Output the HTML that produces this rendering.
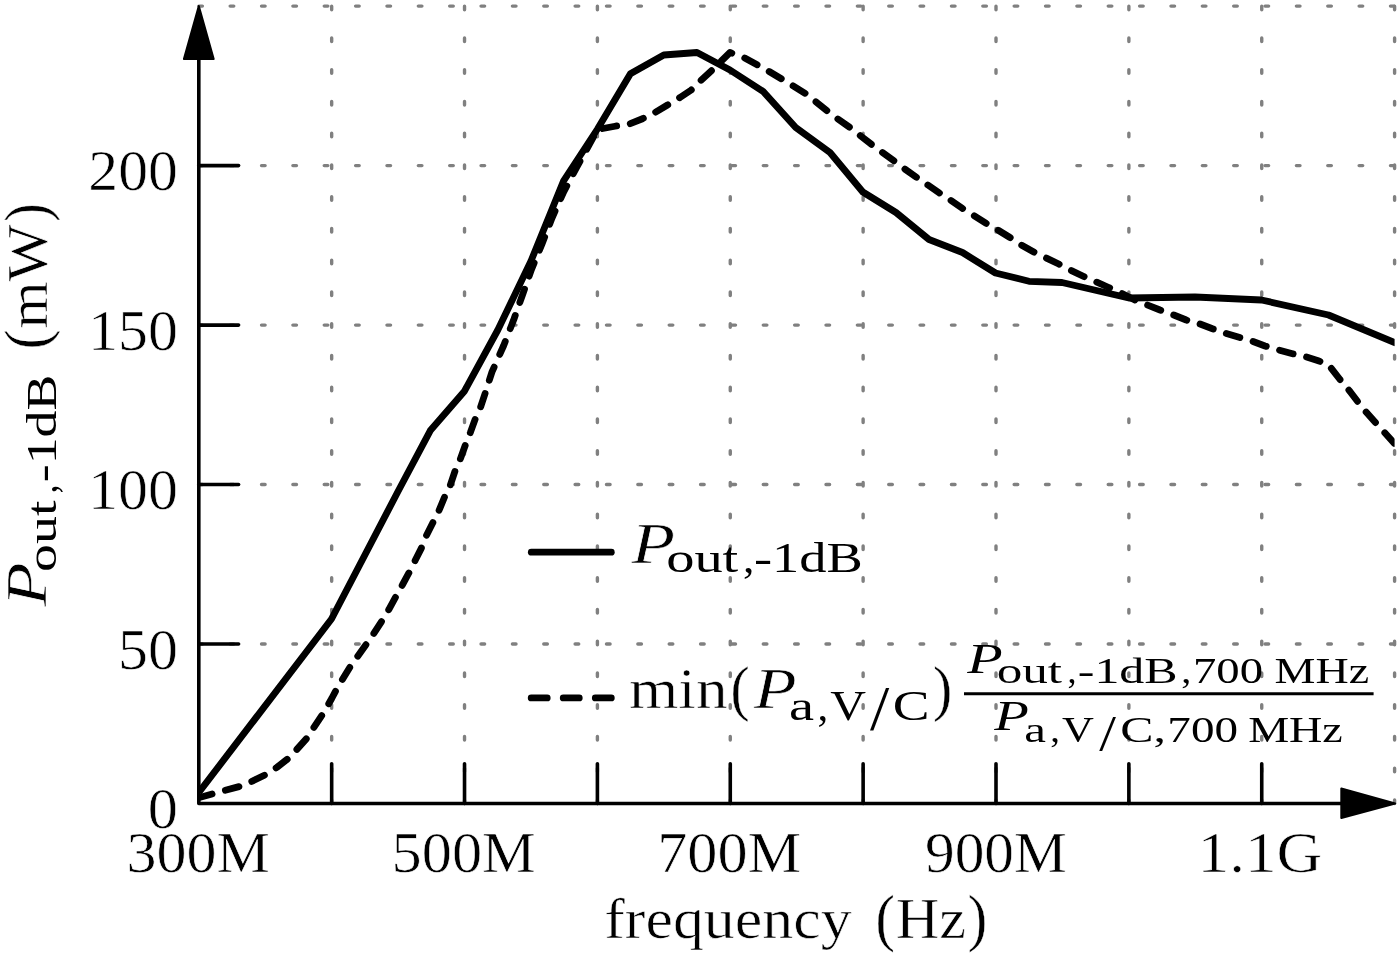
<!DOCTYPE html><html><head><meta charset="utf-8"><style>html,body{margin:0;padding:0;background:#fff;overflow:hidden}svg{display:block;filter:grayscale(1)}</style></head><body><svg width="1400" height="956" viewBox="0 0 1400 956">
<rect width="1400" height="956" fill="#fff"/>
<g stroke="#808080" stroke-width="3.4" stroke-linecap="round" fill="none"><line x1="198.8" y1="644.02" x2="1394.60" y2="644.02" stroke-dasharray="3.6 27.76"/><line x1="198.8" y1="484.55" x2="1394.60" y2="484.55" stroke-dasharray="3.6 27.76"/><line x1="198.8" y1="325.08" x2="1394.60" y2="325.08" stroke-dasharray="3.6 27.76"/><line x1="198.8" y1="165.60" x2="1394.60" y2="165.60" stroke-dasharray="3.6 27.76"/><line x1="198.8" y1="6.12" x2="1394.60" y2="6.12" stroke-dasharray="3.6 27.76"/><line x1="331.67" y1="803.5" x2="331.67" y2="6.12" stroke-dasharray="3.6 28.15"/><line x1="464.53" y1="803.5" x2="464.53" y2="6.12" stroke-dasharray="3.6 28.15"/><line x1="597.40" y1="803.5" x2="597.40" y2="6.12" stroke-dasharray="3.6 28.15"/><line x1="730.27" y1="803.5" x2="730.27" y2="6.12" stroke-dasharray="3.6 28.15"/><line x1="863.13" y1="803.5" x2="863.13" y2="6.12" stroke-dasharray="3.6 28.15"/><line x1="996.00" y1="803.5" x2="996.00" y2="6.12" stroke-dasharray="3.6 28.15"/><line x1="1128.87" y1="803.5" x2="1128.87" y2="6.12" stroke-dasharray="3.6 28.15"/><line x1="1261.74" y1="803.5" x2="1261.74" y2="6.12" stroke-dasharray="3.6 28.15"/><line x1="1394.60" y1="803.5" x2="1394.60" y2="6.12" stroke-dasharray="3.6 28.15"/></g>
<g stroke="#000" stroke-width="3.6" stroke-linecap="round" fill="none"><line x1="198.8" y1="644.02" x2="238.6" y2="644.02"/><line x1="198.8" y1="484.55" x2="238.6" y2="484.55"/><line x1="198.8" y1="325.08" x2="238.6" y2="325.08"/><line x1="198.8" y1="165.60" x2="238.6" y2="165.60"/><line x1="331.67" y1="803.5" x2="331.67" y2="763.8"/><line x1="464.53" y1="803.5" x2="464.53" y2="763.8"/><line x1="597.40" y1="803.5" x2="597.40" y2="763.8"/><line x1="730.27" y1="803.5" x2="730.27" y2="763.8"/><line x1="863.13" y1="803.5" x2="863.13" y2="763.8"/><line x1="996.00" y1="803.5" x2="996.00" y2="763.8"/><line x1="1128.87" y1="803.5" x2="1128.87" y2="763.8"/><line x1="1261.74" y1="803.5" x2="1261.74" y2="763.8"/><polyline points="198.8,58 198.8,803.5 1342,803.5" stroke-linejoin="round"/></g>
<g fill="#000" stroke="#000" stroke-width="2" stroke-linejoin="round"><polygon points="198.8,6 183.9,59 213.7,59"/><polygon points="1395.2,803.5 1341.3,788.5 1341.3,818.1"/></g>
<defs><clipPath id="pc"><rect x="198.8" y="0" width="1195.8" height="803.5"/></clipPath></defs><g clip-path="url(#pc)">
<polyline points="198.50,797.80 213.10,793.80 225.20,790.30 239.80,786.40 252.00,781.30 264.90,775.00 276.70,767.50 287.70,758.90 296.30,750.00 307.50,737.50 313.80,727.50 323.80,712.50 331.70,698.50 337.50,687.50 350.00,667.00 357.50,656.50 367.50,642.50 373.80,633.50 382.50,620.00 388.80,609.60 396.30,595.80 402.60,584.50 410.10,570.70 415.10,560.60 421.40,548.10 426.40,535.50 432.70,523.00 439.00,510.50 444.70,496.70 450.20,485.40 455.30,470.30 460.30,459.00 465.30,445.20 470.30,432.70 475.30,418.90 480.40,407.60 485.40,392.50 492.00,371.90 503.70,345.50 514.00,319.00 522.70,294.30 531.50,269.40 541.80,244.50 552.00,218.10 563.70,191.80 576.90,166.90 597.60,129.50 615.00,126.25 630.00,123.75 642.50,118.75 655.00,112.50 667.50,105.00 680.00,97.50 691.25,90.00 700.00,81.25 713.75,68.50 730.00,52.50 743.75,57.50 757.50,65.00 768.75,71.25 782.50,79.50 792.50,85.50 806.25,94.00 815.00,101.00 827.50,111.25 837.50,118.75 850.00,127.50 860.00,135.50 871.50,144.40 882.40,152.40 893.90,160.80 904.90,169.10 916.40,177.20 927.90,185.00 939.40,193.00 950.90,200.40 962.60,208.50 974.10,215.70 986.20,223.40 997.50,229.80 1010.00,237.50 1021.25,245.00 1033.75,252.00 1046.25,258.00 1058.75,264.00 1071.25,270.50 1083.75,276.50 1096.25,282.00 1108.75,287.50 1122.50,293.75 1135.00,300.00 1147.50,305.00 1160.00,310.00 1173.75,315.00 1186.25,320.00 1200.00,324.00 1212.50,328.75 1226.25,333.50 1240.00,337.50 1252.50,341.25 1265.00,346.00 1278.75,350.00 1292.50,353.75 1306.25,357.00 1317.50,360.50 1328.20,364.50 1340.00,379.50 1350.00,391.50 1362.50,408.00 1375.00,422.00 1385.00,433.00 1394.60,443.75 1402.00,452.04" fill="none" stroke="#000" stroke-width="6.8" stroke-dasharray="14.1 13.8" stroke-linecap="round" stroke-linejoin="round"/>
<polyline points="198.80,792.50 331.50,619.00 398.50,490.50 430.30,430.60 464.20,391.60 497.80,330.00 531.00,261.00 563.60,180.80 597.50,129.00 630.40,73.80 663.80,55.00 697.00,52.50 730.00,70.00 763.00,91.30 795.70,127.50 830.00,152.50 862.80,192.00 896.00,212.50 929.00,239.50 962.50,252.50 995.50,273.00 1029.00,281.30 1062.00,282.50 1128.80,298.00 1195.00,297.00 1261.50,300.00 1328.50,315.00 1394.60,342.50 1402.00,345.58" fill="none" stroke="#000" stroke-width="6.8" stroke-linejoin="round"/>
</g>
<line x1="531.3" y1="552.2" x2="611.3" y2="552.2" stroke="#000" stroke-width="6.8" stroke-linecap="round"/>
<line x1="531.2" y1="697.9" x2="611.3" y2="697.9" stroke="#000" stroke-width="6.8" stroke-linecap="round" stroke-dasharray="16 16.05"/>
<line x1="964" y1="693.8" x2="1373.6" y2="693.8" stroke="#000" stroke-width="3"/>
<g font-family="Liberation Serif, serif" fill="#000" stroke="#fff" stroke-width="0.6"><text x="88.37" y="190.20" font-size="57.00" textLength="89.49" lengthAdjust="spacingAndGlyphs">200</text><text x="88.03" y="349.68" font-size="57.00" textLength="89.85" lengthAdjust="spacingAndGlyphs">150</text><text x="88.03" y="509.15" font-size="57.00" textLength="89.85" lengthAdjust="spacingAndGlyphs">100</text><text x="117.92" y="668.62" font-size="57.00" textLength="59.96" lengthAdjust="spacingAndGlyphs">50</text><text x="147.71" y="828.10" font-size="57.00" textLength="30.19" lengthAdjust="spacingAndGlyphs">0</text><text x="126.62" y="872.00" font-size="57.00" textLength="143.23" lengthAdjust="spacingAndGlyphs">300M</text><text x="391.58" y="872.00" font-size="57.00" textLength="144.16" lengthAdjust="spacingAndGlyphs">500M</text><text x="657.19" y="872.00" font-size="57.00" textLength="143.93" lengthAdjust="spacingAndGlyphs">700M</text><text x="924.95" y="872.00" font-size="57.00" textLength="141.93" lengthAdjust="spacingAndGlyphs">900M</text><text x="1197.57" y="872.00" font-size="57.00" textLength="124.74" lengthAdjust="spacingAndGlyphs">1.1G</text><text x="604.18" y="937.80" font-size="57.00" textLength="247.54" lengthAdjust="spacingAndGlyphs">frequency</text><text font-size="100.0" transform="matrix(0.58366,0,0,0.62845,875.43,938.61)">(</text><text x="895.75" y="938.00" font-size="57.00" textLength="70.44" lengthAdjust="spacingAndGlyphs">Hz</text><text font-size="100.0" transform="matrix(0.58366,0,0,0.62845,967.63,938.61)">)</text><text x="631.46" y="563.20" font-size="57.00" font-style="italic" textLength="43.59" lengthAdjust="spacingAndGlyphs">P</text><text x="628.97" y="708.10" font-size="57.00" textLength="98.66" lengthAdjust="spacingAndGlyphs">min</text><text font-size="100.0" transform="matrix(0.57588,0,0,0.61632,730.57,708.87)">(</text><text x="754.05" y="708.10" font-size="57.00" font-style="italic" textLength="42.66" lengthAdjust="spacingAndGlyphs">P</text><text font-size="100.0" transform="matrix(0.57588,0,0,0.61632,933.06,708.87)">)</text></g>
<g font-family="Liberation Serif, serif" fill="#000"><text x="666.15" y="572.00" font-size="43.00" textLength="72.18" lengthAdjust="spacingAndGlyphs">out</text><text x="742.97" y="572.00" font-size="43.00" textLength="11.41" lengthAdjust="spacingAndGlyphs">,</text><text x="753.99" y="572.00" font-size="43.00" textLength="108.88" lengthAdjust="spacingAndGlyphs">-1dB</text><text x="788.92" y="720.30" font-size="43.00" textLength="25.06" lengthAdjust="spacingAndGlyphs">a</text><text x="817.57" y="720.30" font-size="43.00" textLength="10.74" lengthAdjust="spacingAndGlyphs">,</text><text x="830.25" y="720.30" font-size="43.00" textLength="35.80" lengthAdjust="spacingAndGlyphs">V</text><text font-size="100.0" transform="matrix(0.69424,0,0,0.62481,870.00,729.78)">/</text><text x="892.84" y="720.30" font-size="43.00" textLength="36.80" lengthAdjust="spacingAndGlyphs">C</text><text x="967.19" y="673.40" font-size="43.00" font-style="italic" textLength="35.41" lengthAdjust="spacingAndGlyphs">P</text><text x="996.65" y="683.00" font-size="36.50" textLength="65.44" lengthAdjust="spacingAndGlyphs">out</text><text x="1067.52" y="683.00" font-size="36.50" textLength="9.06" lengthAdjust="spacingAndGlyphs">,</text><text x="1077.75" y="683.00" font-size="36.50" textLength="99.90" lengthAdjust="spacingAndGlyphs">-1dB</text><text x="1181.37" y="683.00" font-size="36.50" textLength="10.07" lengthAdjust="spacingAndGlyphs">,</text><text x="1193.02" y="683.00" font-size="36.50" textLength="70.06" lengthAdjust="spacingAndGlyphs">700</text><text x="1274.57" y="683.00" font-size="36.50" textLength="94.53" lengthAdjust="spacingAndGlyphs">MHz</text><text x="994.18" y="730.00" font-size="43.00" font-style="italic" textLength="34.58" lengthAdjust="spacingAndGlyphs">P</text><text x="1024.29" y="742.30" font-size="36.50" textLength="21.69" lengthAdjust="spacingAndGlyphs">a</text><text x="1050.22" y="742.30" font-size="36.50" textLength="9.73" lengthAdjust="spacingAndGlyphs">,</text><text x="1062.11" y="742.30" font-size="36.50" textLength="31.88" lengthAdjust="spacingAndGlyphs">V</text><text font-size="100.0" transform="matrix(0.60072,0,0,0.51570,1099.30,750.18)">/</text><text x="1120.36" y="742.30" font-size="36.50" textLength="45.68" lengthAdjust="spacingAndGlyphs">C,</text><text x="1167.39" y="742.30" font-size="36.50" textLength="70.70" lengthAdjust="spacingAndGlyphs">700</text><text x="1248.16" y="742.30" font-size="36.50" textLength="94.63" lengthAdjust="spacingAndGlyphs">MHz</text></g>
<g font-family="Liberation Serif, serif" fill="#000" transform="translate(46.4,0) rotate(-90)"><g stroke="#fff" stroke-width="0.6"><text x="-606.64" y="0.00" font-size="57.00" font-style="italic" textLength="44.21" lengthAdjust="spacingAndGlyphs">P</text><text font-size="100.0" transform="matrix(0.58755,0,0,0.61852,-349.19,0.73)">(</text><text x="-328.57" y="0.40" font-size="57.00" textLength="104.37" lengthAdjust="spacingAndGlyphs">mW</text><text font-size="100.0" transform="matrix(0.55253,0,0,0.61852,-221.87,0.73)">)</text></g><text x="-571.92" y="9.20" font-size="43.00" textLength="71.35" lengthAdjust="spacingAndGlyphs">out</text><text x="-493.30" y="9.20" font-size="43.00" textLength="8.56" lengthAdjust="spacingAndGlyphs">,</text><text x="-482.29" y="9.20" font-size="43.00" textLength="107.63" lengthAdjust="spacingAndGlyphs">-1dB</text></g>
</svg></body></html>
